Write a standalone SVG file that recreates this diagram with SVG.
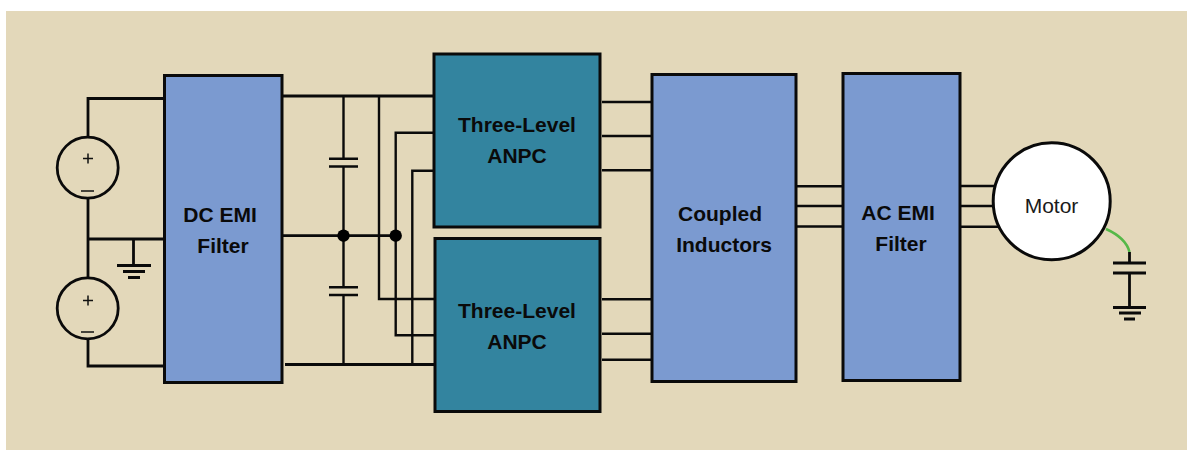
<svg xmlns="http://www.w3.org/2000/svg" width="1187" height="450" viewBox="0 0 1187 450">
<style>
.box{stroke:#0a0a0a;stroke-width:3}
.blue{fill:#7b9ad0}
.teal{fill:#33849f}
.w{fill:none;stroke:#0a0a0a;stroke-width:2.8}
.t{fill:none;stroke:#0a0a0a;stroke-width:2.4}
.l{font-family:"Liberation Sans",Arial,sans-serif;font-weight:bold;font-size:21px;fill:#0a0a0a;text-anchor:middle}
.s{font-family:"Liberation Sans",Arial,sans-serif;font-size:21px;fill:#1a1a1a;text-anchor:middle}
</style>
<rect width="1187" height="450" fill="#fff"/>
<rect x="6" y="11" width="1181" height="439" fill="#e3d8ba"/>
<g id="connectors">
<path class="w" d="M164 98.5H88V137M88 199V277M88 339V366H164M88 239H164M133.5 239V265"/>
<path class="w" d="M117 265.5H151M123 271.5H145M128 277.5H140"/>
<path class="w" d="M282 96H434M282 235.7H396M285 364.5H435"/>
<path class="t" d="M343.5 96V158.5M343.5 166.5V287.5M343.5 295V364.5"/>
<path class="t" d="M329 158.7H358M329 166.5H358M329 287.3H358M329 295H358"/>
<path class="t" d="M433 132.7H395.7V335.3H435M433 170.7H412.3V364.5M379 96V299H435"/>
<circle cx="343.5" cy="235.7" r="6.2" fill="#000"/>
<circle cx="395.7" cy="235.7" r="6.2" fill="#000"/>
<path class="t" d="M602 102H652M602 136H652M602 170.3H652M602 299.3H652M602 333.7H652M602 359.7H652"/>
<path class="t" d="M796 186.3H843M796 206H843M796 226.5H843"/>
<path class="t" d="M960 186H996M960 206H994M960 226.7H998"/>
<path d="M1106 229Q1126 238 1129.5 252" fill="none" stroke="#55b848" stroke-width="2.5"/>
<path class="w" d="M1129.5 252V263M1129.5 273V307.5M1113 263H1146M1113 273H1146M1113 307.5H1146M1119 313H1141M1124 319H1135"/>
</g>
<g id="source-top"><circle class="w" cx="87.7" cy="167.7" r="30.5"/><path d="M83 158.5H93M88 153.5V163.5M81 191H94" fill="none" stroke="#111" stroke-width="1.5"/></g>
<g id="source-bottom"><circle class="w" cx="87.7" cy="308.3" r="30.5"/><path d="M83 300.5H93M88 295.5V305.5M81 332H94" fill="none" stroke="#111" stroke-width="1.5"/></g>
<g id="dc-emi"><rect class="box blue" x="164.5" y="75.5" width="117.5" height="307"/><text class="l" x="220" y="222">DC EMI</text><text class="l" x="223" y="253">Filter</text></g>
<g id="anpc-top"><rect class="box teal" x="434" y="54" width="166" height="173"/><text class="l" x="517" y="132">Three-Level</text><text class="l" x="517" y="163">ANPC</text></g>
<g id="anpc-bottom"><rect class="box teal" x="435" y="238.5" width="165" height="173"/><text class="l" x="517" y="318">Three-Level</text><text class="l" x="517" y="349">ANPC</text></g>
<g id="coupled"><rect class="box blue" x="652" y="74.5" width="144" height="307"/><text class="l" x="720" y="221">Coupled</text><text class="l" x="724" y="252">Inductors</text></g>
<g id="ac-emi"><rect class="box blue" x="843" y="73.5" width="117" height="307"/><text class="l" x="898" y="220">AC EMI</text><text class="l" x="901" y="251">Filter</text></g>
<g id="motor"><circle cx="1051.7" cy="201.3" r="58.5" fill="#fff" stroke="#0a0a0a" stroke-width="3"/><text class="s" x="1051.5" y="212.5">Motor</text></g>
</svg>
